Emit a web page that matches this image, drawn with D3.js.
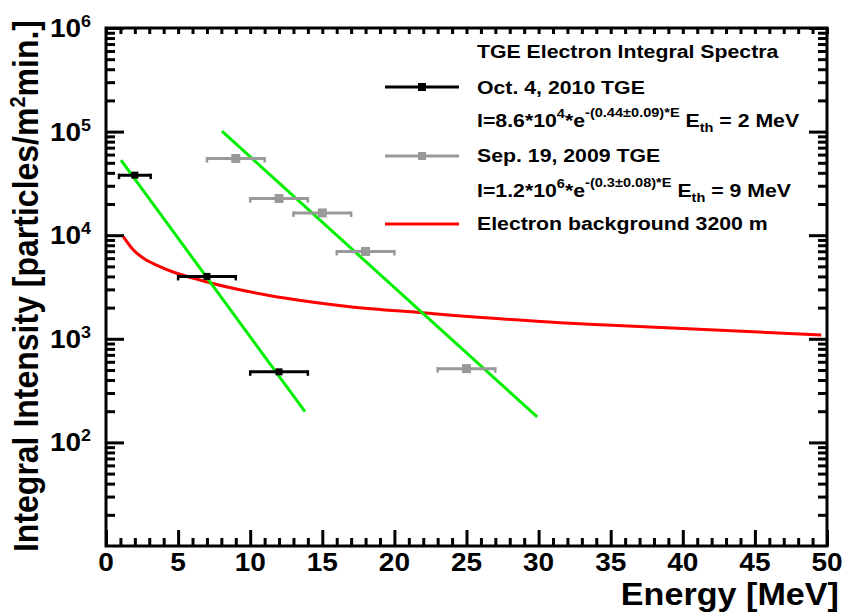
<!DOCTYPE html>
<html>
<head>
<meta charset="utf-8">
<script src="https://cdn.jsdelivr.net/npm/d3@7"></script>
<style>
body { margin: 0; background: #fff; }
text { font-family: "Liberation Sans", Arial, sans-serif; font-weight: bold; fill: #000; }
</style>
</head>
<body>
<svg id="chart" width="843" height="613"></svg>
<script>
/* data */
const octEnergy = [2, 7, 12];
const octErr = [1.1, 2, 2];
const octIntensity = [3.8e4, 4.0e3, 480];

const sepEnergy = [9, 12, 15, 18, 25];
const sepErr = [2, 2, 2, 2, 2];
const sepIntensity = [5.5e4, 2.26e4, 1.64e4, 6970, 515];

// fit lines (straight on log scale), end points
const octFitE = [1.04, 13.8];
const octFitI = [5.3e4, 198];
const sepFitE = [8.04, 29.9];
const sepFitI = [1.01e5, 176];

// electron background at 3200 m
const bgEnergy = [1.2, 1.9, 2.6, 3.5, 4.9, 6.5, 8.8, 12.5, 16.9, 21.8, 31.5, 34.7, 49.6];
const bgIntensity = [9690, 7200, 5990, 5150, 4290, 3700, 3070, 2460, 2040, 1790, 1430, 1360, 1090];

const xTickValues = d3.range(0, 51, 5);
const xMinorValues = d3.range(0, 51, 1);
const yDecades = [1e2, 1e3, 1e4, 1e5, 1e6];
const yDecadeExp = ["2", "3", "4", "5", "6"];

/* layout */
const margin = { top: 28, right: 16, bottom: 67, left: 106 };
const width = 843, height = 613;
const sx = 1.12; // reference text is slightly wide

const svg = d3.select("#chart");
const xScale = d3.scaleLinear().domain([0, 50]).range([margin.left, width - margin.right - 0]);
const yScale = d3.scaleLog().domain([10, 1e6]).range([height - margin.bottom, margin.top]);
const x0 = xScale.range()[0], x1 = xScale.range()[1];
const y0 = yScale.range()[0], y1 = yScale.range()[1];

const yMinor = yScale.ticks().filter(v => yDecades.indexOf(v) < 0 && v > 10);

/* axes: ticks drawn inside the frame */
function tickAxis(axisFn, values, size, tx, ty) {
    const g = svg.append("g")
        .attr("transform", `translate(${tx},${ty})`)
        .call(axisFn.tickValues(values).tickSizeInner(-size).tickSizeOuter(0).tickFormat(""));
    g.select(".domain").remove();
    g.selectAll("line").attr("stroke", "#000").attr("stroke-width", 3);
    return g;
}
const xMin = xMinorValues.filter(v => v % 5 !== 0);
tickAxis(d3.axisBottom(xScale), xMin, 8, 0, y0);
tickAxis(d3.axisBottom(xScale), xTickValues, 16, 0, y0);
tickAxis(d3.axisTop(xScale), xMin, 6, 0, y1);
tickAxis(d3.axisTop(xScale), xTickValues, 6, 0, y1);
tickAxis(d3.axisLeft(yScale), yMinor, 9, x0, 0);
tickAxis(d3.axisLeft(yScale), yDecades, 18, x0, 0);
tickAxis(d3.axisRight(yScale), yMinor, 9, x1, 0);
tickAxis(d3.axisRight(yScale), yDecades, 18, x1, 0);

/* frame */
svg.append("rect")
    .attr("x", x0).attr("y", y1)
    .attr("width", x1 - x0).attr("height", y0 - y1)
    .attr("fill", "none").attr("stroke", "#000").attr("stroke-width", 3);

/* tick labels */
svg.append("g").selectAll("text").data(xTickValues).enter()
    .append("text")
    .attr("text-anchor", "middle")
    .attr("font-size", 25)
    .attr("transform", d => `translate(${xScale(d)},${y0 + 25}) scale(${sx},1)`)
    .text(d => d);

const yLab = svg.append("g").selectAll("text").data(yDecades).enter()
    .append("text")
    .attr("text-anchor", "end")
    .attr("font-size", 25)
    .attr("transform", d => `translate(91,${yScale(d) + 9}) scale(${sx},1)`);
yLab.append("tspan").text("10");
yLab.append("tspan").attr("font-size", 16).attr("dy", -10).text((d, i) => yDecadeExp[i]);

/* axis titles */
svg.append("text")
    .attr("text-anchor", "end")
    .attr("font-size", 30.5)
    .attr("transform", `translate(839,605) scale(${sx},1)`)
    .text("Energy [MeV]");

const yTitle = svg.append("text")
    .attr("text-anchor", "end")
    .attr("font-size", 32)
    .attr("transform", `translate(38,20) scale(${sx},1) rotate(-90)`);
yTitle.append("tspan").text("Integral Intensity [particles/m");
yTitle.append("tspan").attr("font-size", 20).attr("dy", -12).text("2");
yTitle.append("tspan").attr("dy", 12).text("min.]");

/* curves */
const line = d3.line().x(d => xScale(d[0])).y(d => yScale(d[1]));
const plot = svg.append("g");

plot.append("path")
    .datum(bgEnergy.map((e, i) => [e, bgIntensity[i]]))
    .attr("d", line.curve(d3.curveMonotoneX))
    .attr("fill", "none").attr("stroke", "#ff0000").attr("stroke-width", 3);

const straight = d3.line().x(d => xScale(d[0])).y(d => yScale(d[1]));
[[octFitE, octFitI], [sepFitE, sepFitI]].forEach(f => {
    plot.append("path")
        .datum(f[0].map((e, i) => [e, f[1][i]]))
        .attr("d", straight)
        .attr("fill", "none").attr("stroke", "#00ee00").attr("stroke-width", 3);
});

/* error bars and markers */
function drawSeries(energy, err, intensity, color, msize) {
    const data = energy.map((e, i) => ({ e: e, err: err[i], v: intensity[i] }));
    const g = plot.append("g");
    g.selectAll(".bar").data(data).enter().append("line")
        .attr("x1", d => xScale(d.e - d.err)).attr("x2", d => xScale(d.e + d.err))
        .attr("y1", d => yScale(d.v)).attr("y2", d => yScale(d.v))
        .attr("stroke", color).attr("stroke-width", 3);
    data.forEach(d => {
        [d.e - d.err, d.e + d.err].forEach(xe => {
            g.append("line")
                .attr("x1", xScale(xe)).attr("x2", xScale(xe))
                .attr("y1", yScale(d.v) - 1.5).attr("y2", yScale(d.v) + 4)
                .attr("stroke", color).attr("stroke-width", 2.5);
        });
    });
    g.selectAll("rect").data(data).enter().append("rect")
        .attr("x", d => xScale(d.e) - msize / 2).attr("y", d => yScale(d.v) - msize / 2)
        .attr("width", msize).attr("height", msize)
        .attr("fill", color);
}
drawSeries(sepEnergy, sepErr, sepIntensity, "#999999", 9);
drawSeries(octEnergy, octErr, octIntensity, "#000000", 7);

/* legend */
const legend = svg.append("g");
function legText(y, size) {
    return legend.append("text")
        .attr("font-size", size)
        .attr("transform", `translate(477,${y}) scale(${sx},1)`);
}
legText(58, 19).text("TGE Electron Integral Spectra");

function legLine(y, color, marker) {
    legend.append("line").attr("x1", 385).attr("x2", 459).attr("y1", y).attr("y2", y)
        .attr("stroke", color).attr("stroke-width", 3);
    if (marker) {
        legend.append("rect").attr("x", 422 - 4).attr("y", y - 4).attr("width", 8).attr("height", 8)
            .attr("fill", color);
    }
}
legLine(87, "#000000", true);
legText(93.5, 19).text("Oct. 4, 2010 TGE");

function formula(y, pre, exp1, exp2, eth) {
    const t = legText(y, 19);
    t.append("tspan").text(pre);
    t.append("tspan").attr("font-size", 13).attr("dy", -9).text(exp1);
    t.append("tspan").attr("dy", 9).text("*e");
    t.append("tspan").attr("font-size", 13).attr("dy", -10).text(exp2);
    t.append("tspan").attr("dy", 10).text(" E");
    t.append("tspan").attr("font-size", 13).attr("dy", 5).text("th");
    t.append("tspan").attr("dy", -5).text(" = " + eth);
}
formula(126.5, "I=8.6*10", "4", "-(0.44\u00b10.09)*E", "2 MeV");

legLine(156, "#999999", true);
legText(161.5, 19).text("Sep. 19, 2009 TGE");
formula(196.5, "I=1.2*10", "6", "-(0.3\u00b10.08)*E", "9 MeV");

legLine(224, "#ff0000", false);
legText(229.5, 19).text("Electron background 3200 m");
</script>
</body>
</html>
